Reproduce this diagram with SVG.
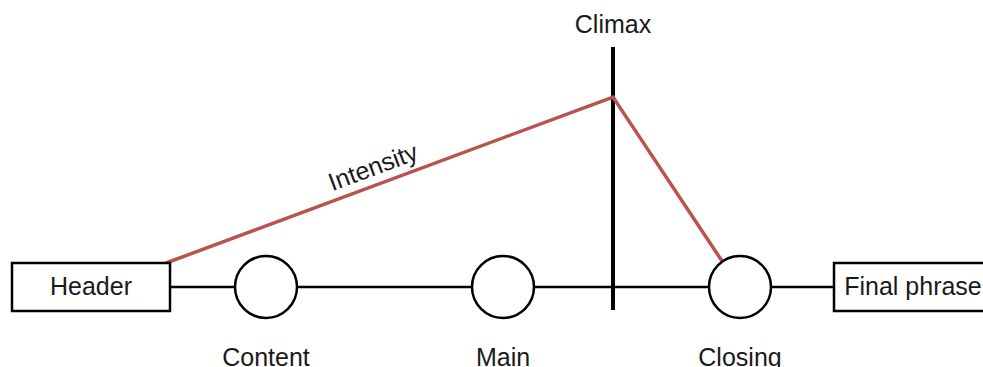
<svg xmlns="http://www.w3.org/2000/svg" width="983" height="367" viewBox="0 0 983 367">
<style>
text{font-family:"Liberation Sans",Arial,sans-serif;font-size:25px;fill:#1a1a1a;text-anchor:middle}
.box{fill:#fff;stroke:#000;stroke-width:2.5}
.c{fill:#fff;stroke:#000;stroke-width:2.5}
.ln{stroke:#000;stroke-width:2.5;fill:none}
.red{stroke:#b85450;stroke-width:3.5;fill:none}
</style>
<rect width="983" height="367" fill="#fff"/>
<g id="connectors">
<line class="ln" x1="170" y1="287" x2="834" y2="287"/>
<line x1="613" y1="47" x2="613" y2="310" stroke="#000" stroke-width="4"/>
<polyline class="red" points="166,263 613,97 722,261"/>
<text x="376" y="175" transform="rotate(-20.4 376 175)">Intensity</text>
</g>
<g id="header"><rect class="box" x="12" y="263" width="158" height="48"/><text x="91" y="295">Header</text></g>
<g id="content"><circle class="c" cx="266" cy="287" r="31"/><text x="266" y="366">Content</text></g>
<g id="main"><circle class="c" cx="503" cy="287" r="31"/><text x="503" y="366">Main</text></g>
<g id="climax"><text x="613" y="33">Climax</text></g>
<g id="closing"><circle class="c" cx="740" cy="287" r="31"/><text x="740" y="366">Closing</text></g>
<g id="final"><rect class="box" x="834" y="263" width="158" height="48"/><text x="913" y="295">Final phrase</text></g>
</svg>
